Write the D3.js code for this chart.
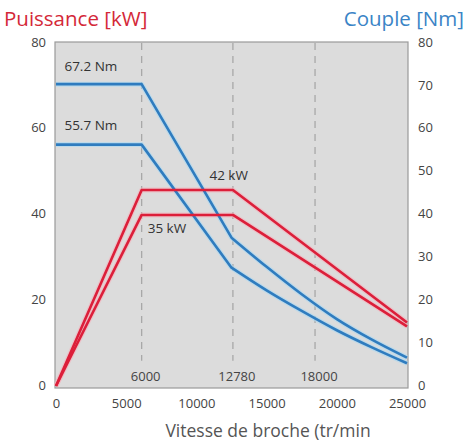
<!DOCTYPE html>
<html><head><meta charset="utf-8">
<script src="https://cdn.jsdelivr.net/npm/d3@7/dist/d3.min.js"></script>
<style>
html,body{margin:0;padding:0;background:#fff;}
svg{display:block;font-family:"Open Sans",sans-serif;}
</style></head>
<body><svg id="c" width="468" height="445"></svg>
<script>
// ---- data ----
const xTicks = [0, 5000, 10000, 15000, 20000, 25000];
const yTicks = [0, 20, 40, 60, 80];
const y2Ticks = [0, 10, 20, 30, 40, 50, 60, 70, 80];
const markerSpeeds = [6100, 12600, 18450];
const markerLabels = ["6000", "12780", "18000"];
const power42 = [[0,0],[6100,45.7],[12600,45.7],[25000,14.8]];
const power35 = [[0,0],[6100,39.9],[12600,39.9],[25000,13.9]];
// torque: constant part + steep part (straight), then curved tail
const torque672Head = [[0,70.4],[6100,70.4],[12500,34.6]];
const torque672Tail = [[12500,34.6],[15000,27.8],[17500,21.4],[20000,15.6],[22500,10.8],[25000,6.6]];
const torque557Head = [[0,56.3],[6100,56.3],[12500,27.6]];
const torque557Tail = [[12500,27.6],[15000,22.3],[17500,17.5],[20000,13.0],[22500,9.0],[25000,5.3]];
const annotations = [
  {text:"67.2 Nm", sx:600, v:73.5, anchor:"start"},
  {text:"55.7 Nm", sx:600, v:59.8, anchor:"start"},
  {text:"42 kW", sx:12300, v:48.0, anchor:"middle"},
  {text:"35 kW", sx:7900, v:35.8, anchor:"middle"}
];

const red = "#dc1f3a", blue = "#2f7cbf", grayText = "#444";
const svg = d3.select("#c");
const x = d3.scaleLinear().domain([0,25000]).range([56,407]);
const y = d3.scaleLinear().domain([0,80]).range([386,43]);

// plot background
svg.append("rect")
  .attr("x", x(0)-1).attr("y", y(80)-1)
  .attr("width", x(25000)-x(0)+2).attr("height", y(0)-y(80)+3)
  .attr("fill","#dcdcdc").attr("stroke","#9a9a9a").attr("stroke-width",1.2);

// dashed markers
svg.selectAll(".mk").data(markerSpeeds).join("line")
  .attr("x1",d=>x(d)).attr("x2",d=>x(d))
  .attr("y1",y(80)).attr("y2",y(5.9))
  .attr("stroke","#a8a8a8").attr("stroke-width",1.3).attr("stroke-dasharray","7,6");
svg.selectAll(".mkl").data(markerSpeeds).join("text")
  .attr("x",d=>x(d)+4).attr("y",y(0)-5)
  .attr("text-anchor","middle").attr("font-size",13).attr("fill",grayText)
  .text((d,i)=>markerLabels[i]);

// axes
const ax = svg.append("g").attr("transform",`translate(0,${y(0)+3})`)
  .call(d3.axisBottom(x).tickValues(xTicks).tickSize(0).tickPadding(10).tickFormat(d3.format("d")));
const ay = svg.append("g").attr("transform",`translate(${x(0)-6},-1)`)
  .call(d3.axisLeft(y).tickValues(yTicks).tickSize(0).tickPadding(4));
const ay2 = svg.append("g").attr("transform",`translate(${x(25000)+7},-1)`)
  .call(d3.axisRight(y).tickValues(y2Ticks).tickSize(0).tickPadding(4));
[ax,ay,ay2].forEach(g=>{
  g.select(".domain").remove();
  g.selectAll("text").attr("font-size",13).attr("fill",grayText).attr("font-family","Open Sans, sans-serif");
});

// lines
const lin = d3.line().x(d=>x(d[0])).y(d=>y(d[1]));
const smooth = d3.line().x(d=>x(d[0])).y(d=>y(d[1])).curve(d3.curveMonotoneX);
const joinPath = (h,t)=> lin(h) + smooth(t).replace(/^M[^A-Za-z]*/, "L" + x(t[0][0]) + "," + y(t[0][1]));
const series = [
  {p:joinPath(torque672Head,torque672Tail),c:blue,h:"#a9d8f3"},
  {p:joinPath(torque557Head,torque557Tail),c:blue,h:"#a9d8f3"},
  {p:lin(power42),c:red,h:"#f5b3bd"},
  {p:lin(power35),c:red,h:"#f5b3bd"}
];
series.forEach(s=>{
  svg.append("path").attr("d",s.p).attr("fill","none")
    .attr("stroke",s.h).attr("stroke-width",5).attr("stroke-opacity",0.6).attr("stroke-linejoin","round");
});
series.forEach(s=>{
  svg.append("path").attr("d",s.p).attr("fill","none")
    .attr("stroke",s.c).attr("stroke-width",2.6).attr("stroke-linejoin","round");
});

// annotations
svg.selectAll(".ann").data(annotations).join("text")
  .attr("x",d=>x(d.sx)).attr("y",d=>y(d.v))
  .attr("text-anchor",d=>d.anchor).attr("font-size",13.5).attr("fill","#333")
  .text(d=>d.text);

// titles
svg.append("text").attr("x",4).attr("y",26).attr("font-size",20.5).attr("fill","#d42838")
  .text("Puissance [kW]");
svg.append("text").attr("x",464).attr("y",26).attr("font-size",20.5).attr("fill","#3a84c6")
  .attr("text-anchor","end").text("Couple [Nm]");
svg.append("text").attr("x",268).attr("y",437).attr("font-size",17.5).attr("fill","#555")
  .attr("text-anchor","middle").text("Vitesse de broche (tr/min");
</script></body></html>
